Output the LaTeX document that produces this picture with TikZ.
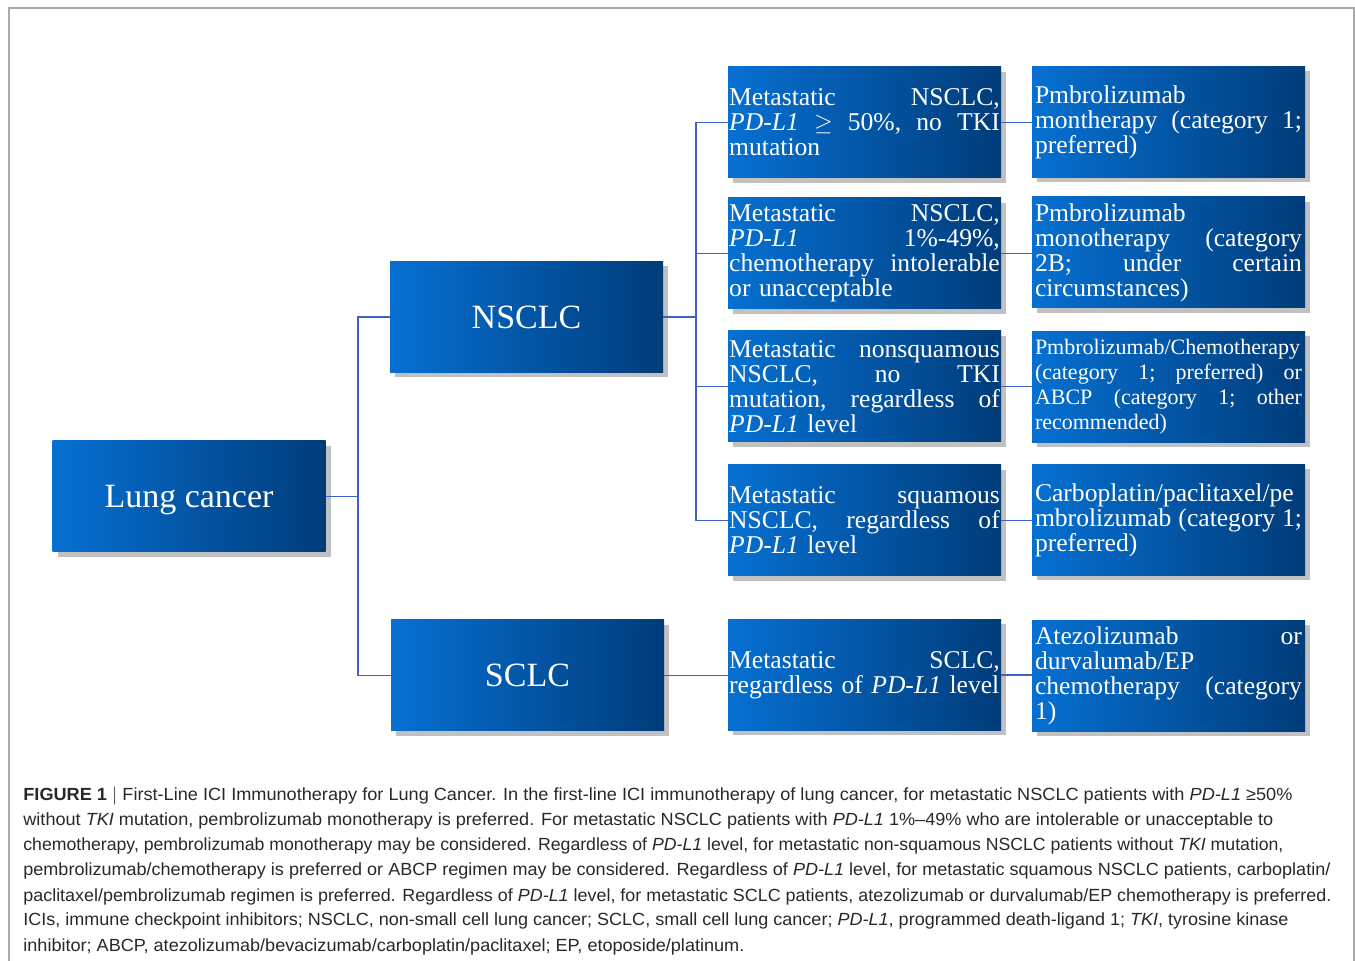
\documentclass[tikz,border=0pt]{standalone}
\usepackage{fontspec}
\setmainfont{Liberation Serif}
\newfontfamily\capfont{Liberation Sans}
\usetikzlibrary{shadows}
\definecolor{bl}{RGB}{6,112,210}
\definecolor{bd}{RGB}{0,60,122}
\definecolor{conncol}{RGB}{64,96,200}
\definecolor{frame}{RGB}{170,170,170}
\definecolor{captext}{RGB}{40,40,40}
\hbadness=10000
\hfuzz=2pt
\newcommand\jl[1]{\leavevmode\hbox to \linewidth{#1}}
\newcommand\pdl{\textit{PD-L1}}
\newcommand\capline[2]{\sbox0{#2}\pgfmathsetmacro\sx{#1/\wd0}\scalebox{\sx}[1]{\usebox0}}
\tikzset{
  basebox/.style={rectangle, inner sep=0pt, left color=bl, right color=bd, text=white,
    drop shadow={shadow xshift=2.5pt, shadow yshift=-2.5pt, opacity=0.35, fill=black!70}},
  bigbox/.style={basebox, minimum width=136.5pt, minimum height=55.5pt, text depth=0pt, font=\fontsize{17}{20}\selectfont},
  txtbox/.style={basebox, minimum height=55.5pt, inner xsep=0.6pt, text width=135.3pt, align=left,
    font=\fontsize{12.8}{12.5}\selectfont},
  conn/.style={draw=conncol, line width=0.8pt},
  capl/.style={anchor=base west, inner sep=0pt, text=captext, font=\capfont\fontsize{8.8}{10}\selectfont}
}
\begin{document}
\begin{tikzpicture}[x=0.5pt,y=-0.5pt]
\useasboundingbox (0,0) rectangle (1355,961);
\draw[frame, line width=0.9pt] (9,961) -- (9,8) -- (1354,8) -- (1354,961);

% level 1 and 2
\node[bigbox] (lung) at (189,496.5) {Lung cancer};
\node[bigbox] (nsclc) at (526.5,317) {NSCLC};
\node[bigbox] (sclc) at (527.5,675.5) {SCLC};

% column 3
\node[txtbox] (a1) at (864.5,122.5) {\jl{Metastatic\hfill NSCLC,}\\\jl{\pdl{}\hfill$\geq$\hfill 50\%,\hfill no\hfill TKI}\\mutation};
\node[txtbox] (a2) at (864.5,253.5) {\jl{Metastatic\hfill NSCLC,}\\\jl{\pdl{}\hfill 1\%-49\%,}\\\jl{chemotherapy\hfill intolerable}\\or unacceptable};
\node[txtbox] (a3) at (864.5,386.5) {\jl{Metastatic\hfill nonsquamous}\\\jl{NSCLC,\hfill no\hfill TKI}\\\jl{mutation,\hfill regardless\hfill of}\\\pdl{} level};
\node[txtbox] (a4) at (864.5,520.5) {\jl{Metastatic\hfill squamous}\\\jl{NSCLC,\hfill regardless\hfill of}\\\pdl{} level};
\node[txtbox] (a5) at (864.5,675) {\jl{Metastatic\hfill SCLC,}\\regardless of \pdl{} level};

% column 4
\node[txtbox, inner xsep=1.5pt, text width=133.5pt] (b1) at (1168.5,122) {Pmbrolizumab\\\jl{montherapy\hfill (category\hfill 1;}\\preferred)};
\node[txtbox, inner xsep=1.5pt, text width=133.5pt] (b2) at (1168.5,252.5) {Pmbrolizumab\\\jl{monotherapy\hfill (category}\\\jl{2B;\hfill under\hfill certain}\\circumstances)};
\node[txtbox, inner xsep=1.5pt, text width=133.5pt, font=\fontsize{11}{12.5}\selectfont] (b3) at (1168.5,387) {\jl{Pmbrolizumab/Chemotherapy}\\\jl{(category\hfill 1;\hfill preferred)\hfill or}\\\jl{ABCP\hfill (category\hfill 1;\hfill other}\\recommended)};
\node[txtbox, inner xsep=1.5pt, text width=133.5pt] (b4) at (1168.5,520) {Carboplatin/paclitaxel/pe\\\jl{mbrolizumab\hfill (category\hfill 1;}\\preferred)};
\node[txtbox, inner xsep=1.5pt, text width=133.5pt] (b5) at (1168.5,676) {\jl{Atezolizumab\hfill or}\\durvalumab/EP\\\jl{chemotherapy\hfill (category}\\1)};

% connectors
\coordinate (j1) at (358,496.5);
\coordinate (j2) at (696,317);
\draw[conn] (lung.east) -- (j1);
\draw[conn] (nsclc.west) -| (j1) |- (sclc.west);
\draw[conn] (nsclc.east) -- (j2);
\draw[conn] (a1.west) -| (j2) |- (a4.west);
\draw[conn] (j2) |- (a2.west);
\draw[conn] (j2) |- (a3.west);
\draw[conn] (sclc.east) -- (sclc.east -| a5.west);
\foreach \i in {1,...,5} {\draw[conn] (a\i.east) -- (a\i.east -| b\i.west);}

% caption
\node[capl] (c1) at (23,801) {\capline{634.5}{\textbf{FIGURE 1} $|$ First-Line ICI Immunotherapy for Lung Cancer. In the first-line ICI immunotherapy of lung cancer, for metastatic NSCLC patients with \textit{PD-L1} ≥50\%}};
\node[capl] (c2) at (23,826) {\capline{625}{without \textit{TKI} mutation, pembrolizumab monotherapy is preferred. For metastatic NSCLC patients with \textit{PD-L1} 1\%–49\% who are intolerable or unacceptable to}};
\node[capl] (c3) at (23,851) {\capline{630}{chemotherapy, pembrolizumab monotherapy may be considered. Regardless of \textit{PD-L1} level, for metastatic non-squamous NSCLC patients without \textit{TKI} mutation,}};
\node[capl] (c4) at (23,876) {\capline{653.5}{pembrolizumab/chemotherapy is preferred or ABCP regimen may be considered. Regardless of \textit{PD-L1} level, for metastatic squamous NSCLC patients, carboplatin/}};
\node[capl] (c5) at (23,901) {\capline{654}{paclitaxel/pembrolizumab regimen is preferred. Regardless of \textit{PD-L1} level, for metastatic SCLC patients, atezolizumab or durvalumab/EP chemotherapy is preferred.}};
\node[capl] (c6) at (23,926) {\capline{632.5}{ICIs, immune checkpoint inhibitors; NSCLC, non-small cell lung cancer; SCLC, small cell lung cancer; \textit{PD-L1}, programmed death-ligand 1; \textit{TKI}, tyrosine kinase}};
\node[capl] (c7) at (23,951) {\capline{360.5}{inhibitor; ABCP, atezolizumab/bevacizumab/carboplatin/paclitaxel; EP, etoposide/platinum.}};
\end{tikzpicture}
\end{document}
